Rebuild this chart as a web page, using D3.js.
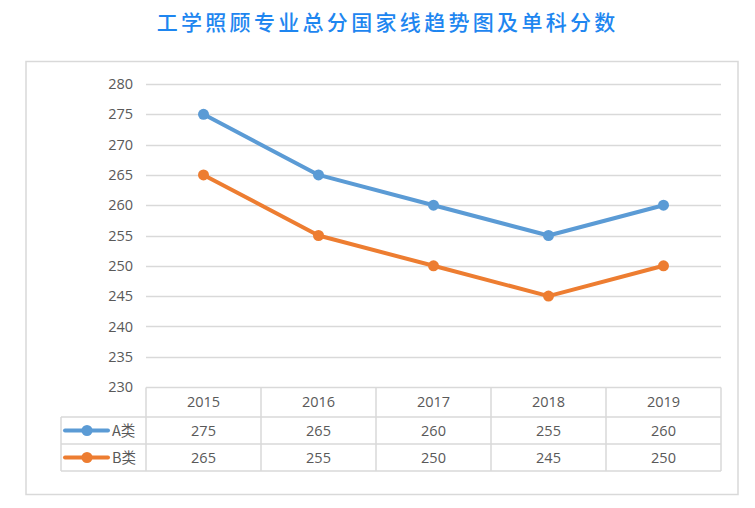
<!DOCTYPE html>
<html><head><meta charset="utf-8">
<script src="https://cdn.jsdelivr.net/npm/d3@7"></script>
<style>body{margin:0;background:#fff;}svg{display:block;}</style>
</head><body>
<script>
const title = "工学照顾专业总分国家线趋势图及单科分数";
const years = ["2015","2016","2017","2018","2019"];
const seriesNames = ["A类","B类"];
const seriesA = [275,265,260,255,260];
const seriesB = [265,255,250,245,250];
const yTicks = [230,235,240,245,250,255,260,265,270,275,280];
const colors = ["#5B9BD5","#ED7D31"];

const W=755,H=508;
const svg=d3.select("body").append("svg").attr("width",W).attr("height",H);
const font="'Noto Sans CJK SC','Noto Sans',sans-serif";

const t=svg.append("text").attr("x",386).attr("y",30).attr("text-anchor","middle")
 .attr("font-family",font).attr("font-size",21).attr("font-weight",500)
 .attr("fill","#1E86F0").text(title);
// fit title width to reference span
const tw=t.node().getComputedTextLength();
const ls=(462-tw)/title.length;
t.attr("letter-spacing",ls).attr("x",386+ls/2);

svg.append("rect").attr("x",26).attr("y",61.5).attr("width",712).attr("height",433)
 .attr("fill","none").attr("stroke","#D9D9D9").attr("stroke-width",1.5);

const x=d3.scaleBand().domain(years).range([146,721]);
const y=d3.scaleLinear().domain([230,280]).range([387,84]);

svg.append("g").selectAll("line").data(yTicks.slice(1)).join("line")
 .attr("x1",146).attr("x2",721).attr("y1",d=>Math.round(y(d))+0.5).attr("y2",d=>Math.round(y(d))+0.5)
 .attr("stroke","#D9D9D9").attr("stroke-width",1.3);

const yAxis=svg.append("g").attr("transform","translate(133,0)")
 .call(d3.axisLeft(y).tickValues(yTicks).tickSize(0).tickPadding(0));
yAxis.select(".domain").remove();
yAxis.selectAll("text").attr("font-family","'Open Sans','Noto Sans',sans-serif").attr("font-size",14.5).attr("fill","#595959");

const tg=svg.append("g").attr("stroke","#D9D9D9").attr("stroke-width",1.5).attr("fill","none");
const rowY=[387.5,417,444,471];
tg.append("line").attr("x1",146).attr("x2",721).attr("y1",rowY[0]).attr("y2",rowY[0]);
[1,2,3].forEach(i=>tg.append("line").attr("x1",61).attr("x2",721).attr("y1",rowY[i]).attr("y2",rowY[i]));
tg.append("line").attr("x1",61).attr("x2",61).attr("y1",rowY[1]).attr("y2",rowY[3]);
years.forEach(yr=>tg.append("line").attr("x1",x(yr)).attr("x2",x(yr)).attr("y1",rowY[0]).attr("y2",rowY[3]));
tg.append("line").attr("x1",721).attr("x2",721).attr("y1",rowY[0]).attr("y2",rowY[3]);

const tf="'Open Sans','Noto Sans',sans-serif";
svg.append("g").selectAll("text").data(years).join("text")
 .attr("x",d=>x(d)+x.bandwidth()/2).attr("y",(rowY[0]+rowY[1])/2+5)
 .attr("text-anchor","middle").attr("font-family",tf).attr("font-size",14.5).attr("fill","#595959").text(d=>d);

const all=[seriesA,seriesB];
all.forEach((vals,si)=>{
  const cy=(rowY[si+1]+rowY[si+2])/2;
  svg.append("g").selectAll("text").data(vals).join("text")
   .attr("x",(d,i)=>x(years[i])+x.bandwidth()/2).attr("y",cy+5)
   .attr("text-anchor","middle").attr("font-family",tf).attr("font-size",14.5).attr("fill","#595959").text(d=>d);
  svg.append("line").attr("x1",65).attr("x2",108).attr("y1",cy).attr("y2",cy)
   .attr("stroke",colors[si]).attr("stroke-width",4).attr("stroke-linecap","round");
  svg.append("circle").attr("cx",87).attr("cy",cy).attr("r",5.5).attr("fill",colors[si]);
  svg.append("text").attr("x",112).attr("y",cy+5).attr("font-family",font).attr("font-size",14.5)
   .attr("fill","#595959").text(seriesNames[si]);

  const line=d3.line().x((d,i)=>x(years[i])+x.bandwidth()/2).y(d=>y(d));
  svg.append("path").datum(vals).attr("d",line).attr("fill","none").attr("stroke",colors[si])
   .attr("stroke-width",4).attr("stroke-linejoin","round").attr("stroke-linecap","round");
  svg.append("g").selectAll("circle").data(vals).join("circle")
   .attr("cx",(d,i)=>x(years[i])+x.bandwidth()/2).attr("cy",d=>y(d)).attr("r",5.5).attr("fill",colors[si]);
});
</script>
</body></html>
